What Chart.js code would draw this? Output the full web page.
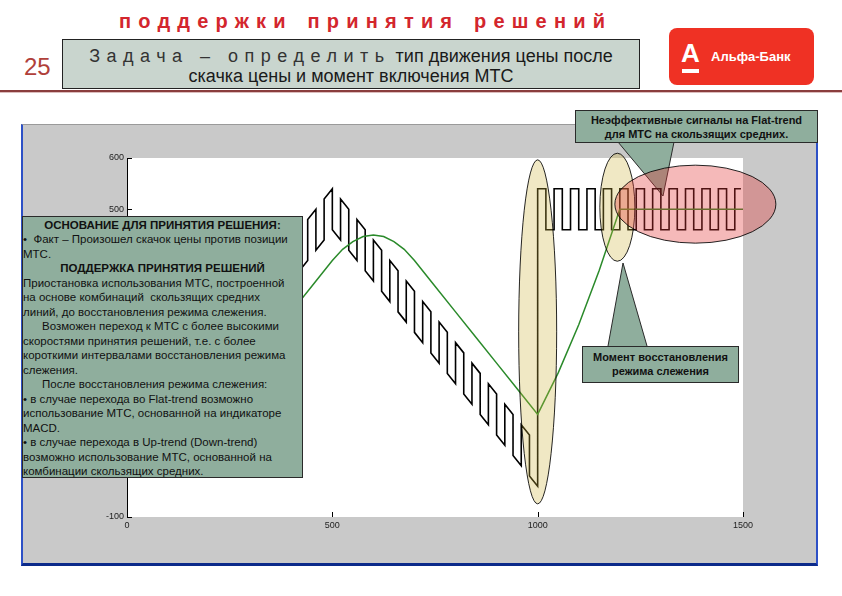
<!DOCTYPE html>
<html lang="ru">
<head>
<meta charset="utf-8">
<title>Поддержка принятия решений</title>
<script src="https://cdn.jsdelivr.net/npm/chart.js@4.4.1/dist/chart.umd.min.js"></script>
<style>
  html, body { margin: 0; padding: 0; background: #fff; }
  body { width: 842px; height: 596px; position: relative; overflow: hidden;
         font-family: Arial, "Liberation Sans", sans-serif; color: #111; }
  .abs { position: absolute; }
  #header { left: 119px; top: 9px; color: #d3262d; font-size: 20px; font-weight: bold;
            letter-spacing: 7.2px; word-spacing: 2px; white-space: nowrap; line-height: 24px; }
  #num { left: 24px; top: 55px; font-size: 24px; line-height: 24px; color: #b0403a; }
  #task { left: 62px; top: 39px; width: 578px; height: 50px; box-sizing: border-box;
          border: 1px solid #222; background: #c9d5ce; text-align: center;
          font-size: 18px; line-height: 20px; padding-top: 6px; white-space: nowrap; color: #1a1a1a; }
  #task .sp { letter-spacing: 6.5px; font-weight: normal; color: #333; }
  #rule { left: 0; top: 90px; width: 842px; height: 2px; background: #8a3d3d;
          box-shadow: 0 1px 0 #dcbcbc; }
  #logo { left: 669px; top: 28px; width: 145px; height: 57px; background: #ef3124; border-radius: 8px; }
  #logo .a { position: absolute; left: 12px; top: 11px; font-size: 26px; font-weight: bold; color: #fff; line-height: 28px; }
  #logo .bar { position: absolute; left: 13px; top: 41px; width: 17px; height: 4px; background: #fff; }
  #logo .t { position: absolute; left: 42px; top: 21px; font-size: 13px; font-weight: bold; color: #fff; line-height: 16px; }
  #panel { left: 21px; top: 124px; width: 797px; height: 442px; box-sizing: border-box;
           background: #c9c9c9; border-top: 1px solid #9a9a9a; border-left: 2px solid #2d50c6;
           border-right: 2px solid #2d50c6; border-bottom: 3px solid #0b2a8a; }
  #wrap { left: 22px; top: 125px; width: 796px; height: 440px; }
  .box { position: absolute; box-sizing: border-box; border: 1px solid #2a2a2a; background: #8fae9d; }
  #basis { left: 22px; top: 216px; width: 281px; height: 262px; font-size: 11.5px; line-height: 14.5px;
           padding-top: 0.5px; white-space: nowrap; overflow: hidden; }
  #basis .h { font-weight: bold; text-align: center; }
  #basis .i { padding-left: 19px; }
  .call { font-weight: bold; font-size: 11px; line-height: 14px; text-align: center; white-space: nowrap; }
  #call1 { left: 575px; top: 110px; width: 243px; height: 33px; padding-top: 2px; }
  #call2 { left: 582px; top: 346px; width: 157px; height: 37px; padding-top: 3px; }
</style>
</head>
<body>
<div id="header" class="abs">поддержки принятия решений</div>
<div id="num" class="abs">25</div>
<div id="task" class="abs"><span class="sp">Задача – определить</span> тип движения цены после<br>скачка цены и момент включения МТС</div>
<div id="rule" class="abs"></div>
<div id="logo" class="abs"><span class="a">А</span><span class="bar"></span><span class="t">Альфа-Банк</span></div>

<div id="panel" class="abs"></div>
<div id="wrap" class="abs"><canvas id="chart" width="796" height="440"></canvas></div>

<div id="basis" class="box">
  <div class="h">ОСНОВАНИЕ ДЛЯ ПРИНЯТИЯ РЕШЕНИЯ:</div>
  <div>•&nbsp; Факт – Произошел скачок цены против позиции</div>
  <div>МТС.</div>
  <div class="h">ПОДДЕРЖКА ПРИНЯТИЯ РЕШЕНИЙ</div>
  <div>Приостановка использования МТС, построенной</div>
  <div>на основе комбинаций&nbsp; скользящих средних</div>
  <div>линий, до восстановления режима слежения.</div>
  <div class="i">Возможен переход к МТС с более высокими</div>
  <div>скоростями принятия решений, т.е. с более</div>
  <div>короткими интервалами восстановления режима</div>
  <div>слежения.</div>
  <div class="i">После восстановления режима слежения:</div>
  <div>• в случае перехода во Flat-trend возможно</div>
  <div>использование МТС, основанной на индикаторе</div>
  <div>MACD.</div>
  <div>• в случае перехода в Up-trend (Down-trend)</div>
  <div>возможно использование МТС, основанной на</div>
  <div>комбинации скользящих средних.</div>
</div>
<div id="call1" class="box call">Неэффективные сигналы на Flat-trend<br>для МТС на скользящих средних.</div>
<div id="call2" class="box call">Момент восстановления<br>режима слежения</div>

<script>
// price signal: each edge of the square wave, value before and after the jump
const edgeX = [0, 20, 40, 60, 80, 100, 120, 140, 160, 180,
  200, 220, 240, 260, 280, 300, 320, 340, 360, 380,
  400, 420, 440, 460, 480, 500, 520, 540, 560, 580,
  600, 620, 640, 660, 680, 700, 720, 740, 760, 780,
  800, 820, 840, 860, 880, 900, 920, 940, 960, 980,
  1000, 1020, 1040, 1060, 1080, 1100, 1120, 1140, 1160, 1180,
  1200, 1220, 1240, 1260, 1280, 1300, 1320, 1340, 1360, 1380,
  1400, 1420, 1440, 1460, 1480, 1495];
const edgeFrom = [40, 60, 0, 100, 40, 140, 80, 180, 120, 220,
  160, 260, 200, 300, 240, 340, 280, 380, 320, 420,
  360, 460, 400, 500, 440, 540, 440, 500, 400, 460,
  360, 420, 320, 380, 280, 340, 240, 300, 200, 260,
  160, 220, 120, 180, 80, 140, 40, 100, 0, 60,
  -40, 540, 460, 540, 460, 540, 460, 540, 460, 540,
  460, 540, 460, 540, 460, 540, 460, 540, 460, 540,
  460, 540, 460, 540, 460, 540];
const edgeTo = [40, -20, 80, 20, 120, 60, 160, 100, 200, 140,
  240, 180, 280, 220, 320, 260, 360, 300, 400, 340,
  440, 380, 480, 420, 520, 460, 520, 420, 480, 380,
  440, 340, 400, 300, 360, 260, 320, 220, 280, 180,
  240, 140, 200, 100, 160, 60, 120, 20, 80, -20,
  540, 460, 540, 460, 540, 460, 540, 460, 540, 460,
  540, 460, 540, 460, 540, 460, 540, 460, 540, 460,
  540, 460, 540, 460, 540, 540];

// moving average (green)
const maX = [200, 250, 300, 350, 400, 450, 500, 525, 550, 575, 600, 625, 650, 675, 700,
  750, 800, 850, 900, 950, 1000, 1050, 1100, 1150, 1200, 1500];
const maY = [100, 150, 200, 250, 300, 350, 400, 422, 437, 447, 450, 447, 437, 422, 400,
  350, 300, 250, 200, 150, 100, 181, 275, 381, 500, 500];

const xTicks = [0, 500, 1000, 1500];
const yTicks = [-100, 0, 100, 200, 300, 400, 500, 600];

// highlight ellipses: centre in data units, radii in px
const ellipses = [
  { x: 1000, y: 261, rx: 19, ry: 172, fill: 'rgba(205,178,60,0.3)' },
  { x: 1194, y: 504, rx: 17.5, ry: 54, fill: 'rgba(205,178,60,0.3)' },
  { x: 1384, y: 510, rx: 80.5, ry: 39, fill: 'rgba(226,54,54,0.35)' }
];
// callout pointers, page pixels
const pointers = [
  [[618, 142], [674, 142], [663, 196]],
  [[608, 346], [647, 346], [623, 263]]
];

const signal = [];
edgeX.forEach((x, i) => {
  signal.push({ x: x, y: edgeFrom[i] });
  signal.push({ x: x, y: edgeTo[i] });
});
const movingAvg = maX.map((x, i) => ({ x: x, y: maY[i] }));

const font = { family: 'Arial, "Liberation Sans", sans-serif', size: 9 };

const overlay = {
  id: 'overlay',
  beforeDraw(chart) {
    const { ctx, chartArea: a } = chart;
    ctx.save();
    ctx.fillStyle = '#fff';
    ctx.fillRect(a.left, a.top, a.right - a.left, a.bottom - a.top);
    ctx.restore();
  },
  beforeDatasetsDraw(chart) {
    const ctx = chart.ctx;
    const r = chart.canvas.getBoundingClientRect();
    ctx.save();
    pointers.forEach(p => {
      ctx.beginPath();
      ctx.moveTo(p[0][0] - r.left, p[0][1] - r.top);
      ctx.lineTo(p[2][0] - r.left, p[2][1] - r.top);
      ctx.lineTo(p[1][0] - r.left, p[1][1] - r.top);
      ctx.closePath();
      ctx.fillStyle = '#8fae9d';
      ctx.fill();
      ctx.beginPath();
      ctx.moveTo(p[0][0] - r.left, p[0][1] - r.top);
      ctx.lineTo(p[2][0] - r.left, p[2][1] - r.top);
      ctx.lineTo(p[1][0] - r.left, p[1][1] - r.top);
      ctx.strokeStyle = '#2a2a2a';
      ctx.lineWidth = 1;
      ctx.stroke();
    });
    ctx.restore();
  },
  afterDatasetsDraw(chart) {
    const { ctx, chartArea: a, scales } = chart;
    ctx.save();
    // y axis line and inward ticks
    ctx.strokeStyle = '#000';
    ctx.lineWidth = 1;
    ctx.beginPath();
    ctx.moveTo(a.left + 0.5, a.top);
    ctx.lineTo(a.left + 0.5, a.bottom);
    scales.y.ticks.forEach(t => {
      const py = Math.round(scales.y.getPixelForValue(t.value)) + 0.5;
      ctx.moveTo(a.left, py);
      ctx.lineTo(a.left + 5, py);
    });
    scales.x.ticks.forEach(t => {
      const px = Math.round(scales.x.getPixelForValue(t.value)) + 0.5;
      ctx.moveTo(px, a.bottom);
      ctx.lineTo(px, a.bottom - 5);
    });
    ctx.stroke();
    // highlight ellipses
    ellipses.forEach(e => {
      const cx = scales.x.getPixelForValue(e.x);
      const cy = scales.y.getPixelForValue(e.y);
      ctx.beginPath();
      ctx.ellipse(cx, cy, e.rx, e.ry, 0, 0, Math.PI * 2);
      ctx.fillStyle = e.fill;
      ctx.fill();
      ctx.strokeStyle = 'rgba(0,0,0,0.85)';
      ctx.lineWidth = 1;
      ctx.stroke();
    });
    ctx.restore();
  }
};

new Chart(document.getElementById('chart'), {
  type: 'line',
  data: {
    datasets: [
      { label: 'MA', data: movingAvg, borderColor: '#2a8a2a', borderWidth: 1.5,
        pointRadius: 0, tension: 0, fill: false, order: 0 },
      { label: 'Цена', data: signal, borderColor: '#000', borderWidth: 1.6,
        pointRadius: 0, tension: 0, fill: false, order: 1 }
    ]
  },
  options: {
    responsive: false,
    animation: false,
    events: [],
    layout: { padding: { left: 75, right: 75, top: 33, bottom: 30 } },
    plugins: { legend: { display: false }, tooltip: { enabled: false } },
    scales: {
      x: {
        type: 'linear', min: 0, max: 1500,
        afterBuildTicks: s => { s.ticks = xTicks.map(v => ({ value: v })); },
        afterFit: s => { s.height = 18; },
        ticks: { font: font, color: '#222', padding: 3, maxRotation: 0, callback: v => String(v) },
        grid: { display: false, drawTicks: false },
        border: { display: false }
      },
      y: {
        type: 'linear', min: -100, max: 600,
        afterBuildTicks: s => { s.ticks = yTicks.map(v => ({ value: v })); },
        afterFit: s => { s.width = 30; },
        ticks: { font: font, color: '#222', padding: 3, callback: v => String(v) },
        grid: { display: false, drawTicks: false },
        border: { display: false }
      }
    }
  },
  plugins: [overlay]
});
</script>
</body>
</html>
